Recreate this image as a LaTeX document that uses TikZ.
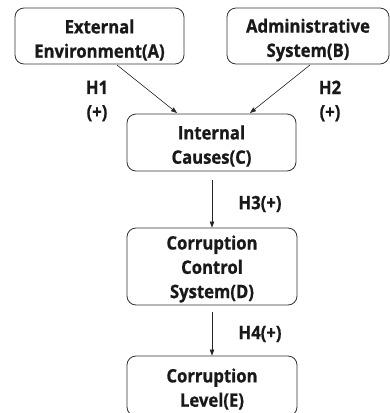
\documentclass[tikz,border=0pt]{standalone}
\usepackage{fontspec}
\setmainfont[FakeStretch=0.9, BoldFeatures={FakeBold=0.8}]{Open Sans}
\usetikzlibrary{arrows.meta}
\begin{document}
\begin{tikzpicture}[x=1pt,y=-1pt,
  box/.style={draw=black!80, line width=0.8pt, rounded corners=9pt, inner sep=0pt},
  lbl/.style={font=\fontsize{18.5}{24.3}\selectfont\bfseries, align=center, inner sep=0pt, text=black!90},
  conn/.style={draw=black!85, line width=0.6pt, -{Triangle[length=6pt,width=4.5pt]}}]
\useasboundingbox (0,0) rectangle (390,413);
\node[box, minimum width=169pt, minimum height=56pt] (A) at (99.5,36) {};
\node[lbl] at (99.5,40) {External\\Environment(A)};
\node[box, minimum width=162pt, minimum height=56pt] (B) at (308,36) {};
\node[lbl] at (308,40) {Administrative\\System(B)};
\node[box, minimum width=169pt, minimum height=57pt] (C) at (211.5,142.5) {};
\node[lbl] at (211.5,146) {Internal\\Causes(C)};
\node[box, minimum width=170pt, minimum height=77pt] (D) at (212,266.5) {};
\node[lbl] at (212,269) {Corruption\\Control\\System(D)};
\node[box, minimum width=170pt, minimum height=60pt] (E) at (212,386) {};
\node[lbl] at (212,389) {Corruption\\Level(E)};
\coordinate (a1) at (117,65);
\coordinate (a2) at (177,113);
\coordinate (b1) at (310,65);
\coordinate (b2) at (250,113);
\draw[conn] (a1) -- (a2);
\draw[conn] (b1) -- (b2);
\coordinate (c1) at (212,180);
\coordinate (d1) at (212,312);
\draw[conn] (c1) -- (c1 |- D.north);
\draw[conn] (d1) -- (d1 |- E.north);
\node[lbl] (h1) at (97,101) {H1\\(+)};
\node[lbl] (h2) at (330,101) {H2\\(+)};
\node[lbl] (h3) at (260,204) {H3(+)};
\node[lbl] (h4) at (260,334) {H4(+)};
\end{tikzpicture}
\end{document}
